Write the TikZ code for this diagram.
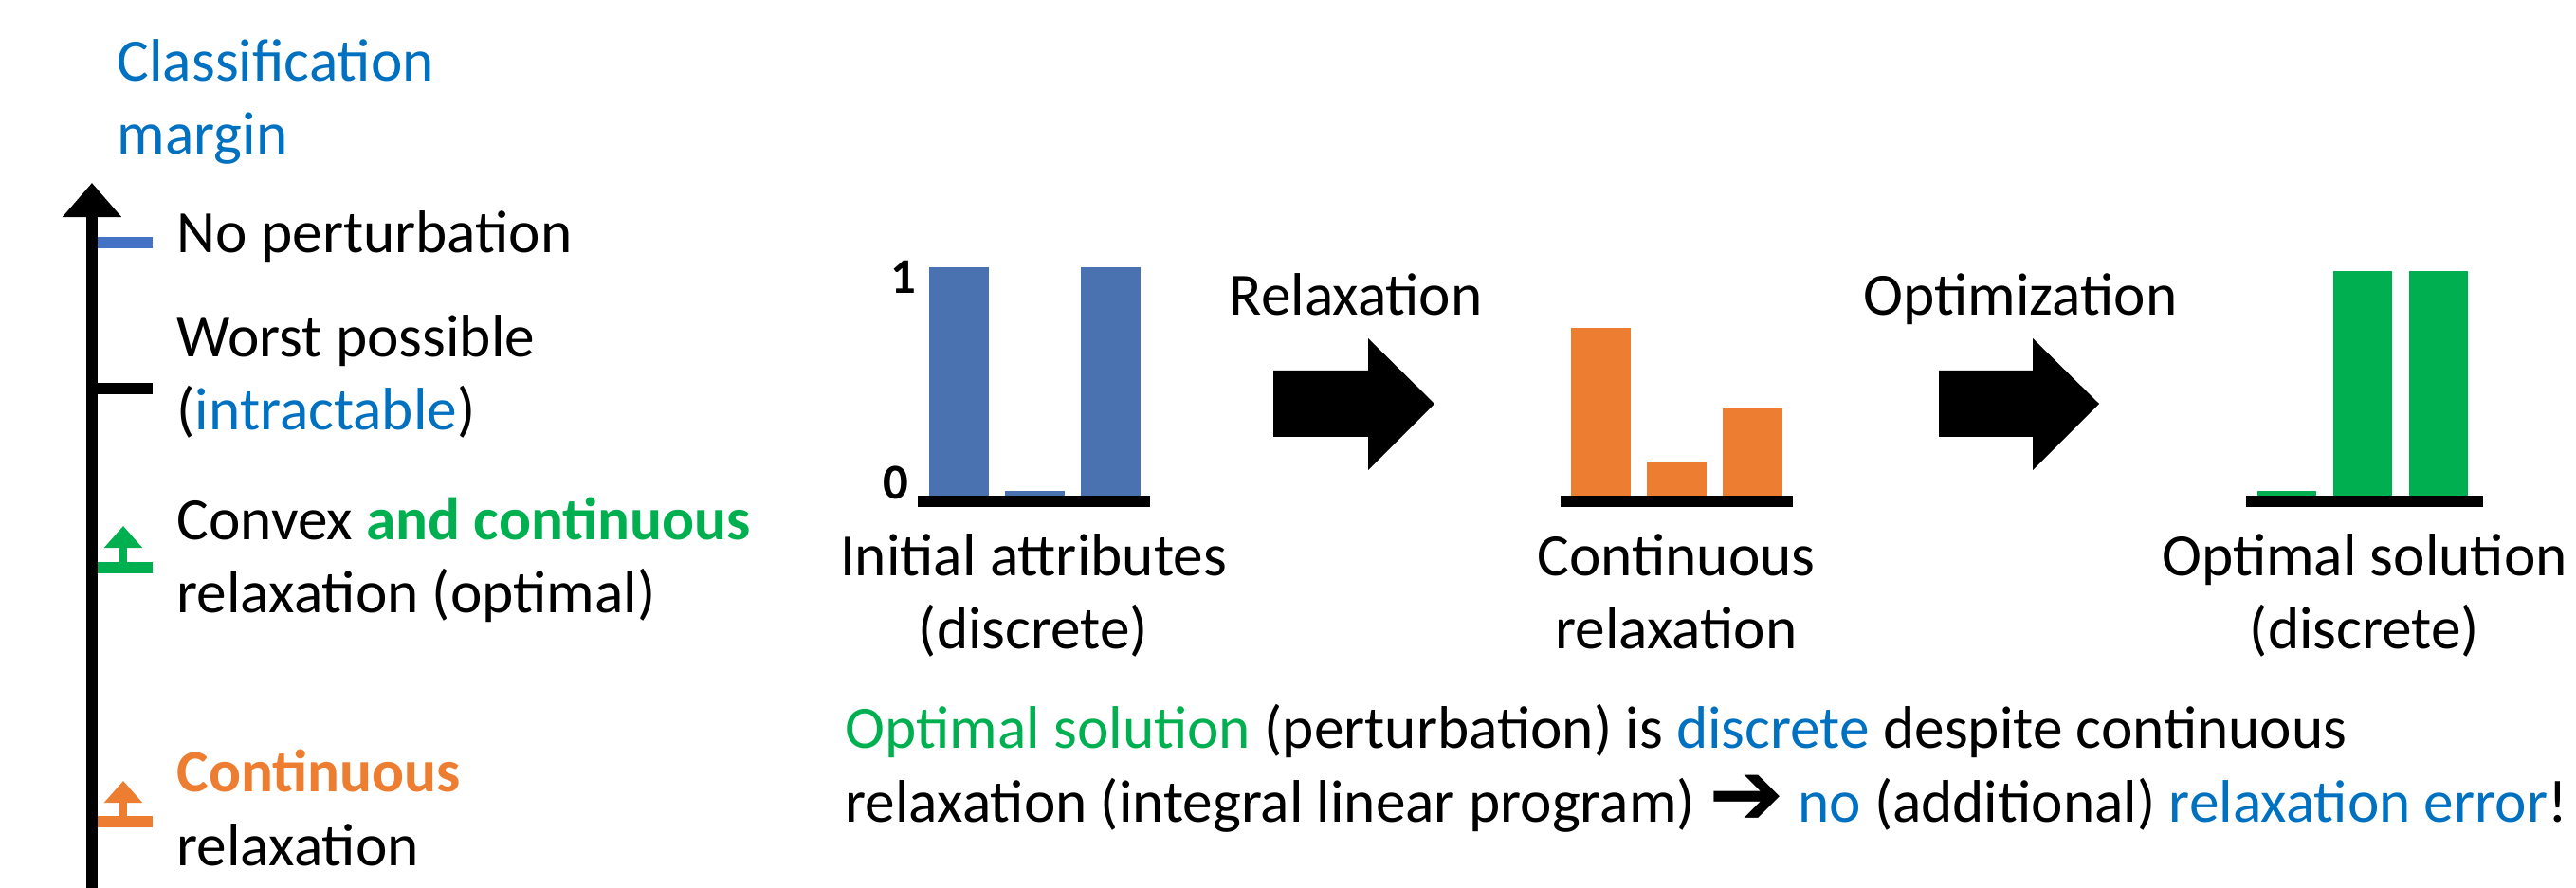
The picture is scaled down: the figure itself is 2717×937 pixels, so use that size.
\documentclass[tikz,border=0pt]{standalone}
\usepackage{fontspec}
\setmainfont{Carlito}
\newfontfamily\symfont{DejaVu Sans}
\usetikzlibrary{positioning, arrows.meta}
\definecolor{cMargin}{HTML}{0070C0}
\definecolor{cInit}{HTML}{4A72B0}
\definecolor{cTick}{HTML}{4472C4}
\definecolor{cRelax}{HTML}{ED7D31}
\definecolor{cOpt}{HTML}{00B050}
\tikzset{
  txt/.style     ={font=\fontsize{18}{22}\selectfont, inner sep=0pt, align=left, anchor=base west},
  caption/.style ={txt, align=center, anchor=base},
  ylabel/.style  ={font=\fontsize{15}{18}\selectfont\bfseries, inner sep=0pt, anchor=base east},
  axis/.style    ={line width=0.11cm, -{Triangle[width=0.6cm, length=0.36cm]}},
  gain/.style    ={line width=0.08cm, -{Triangle[width=0.39cm, length=0.23cm]}},
  ground/.style  ={fill=black}
}

\begin{document}
\begin{tikzpicture}[x=0.01cm, y=-0.01cm]
  \useasboundingbox (0,0) rectangle (2717,937);

  % ====================== Margin axis (left) ======================
  % multi-line nodes sit on the baseline of their last line
  \draw[axis] (97,937) -- (97,193);
  \node[txt, text=cMargin] (margin) at (123,163) {Classification\\margin};

  \fill[cTick] (103,250) rectangle (161,262);
  \node[txt] (noPert) at (186,267) {No perturbation};

  \fill (103,404) rectangle (161,416);
  \node[txt] (worst) at (186,454) {Worst possible\\(\textcolor{cMargin}{intractable})};

  \fill[cOpt] (103,593) rectangle (161,605);
  \draw[gain, cOpt] (130,593) -- (130,555);
  \node[txt] (convex) at (186,647) {Convex \textcolor{cOpt}{\bfseries and continuous}\\relaxation (optimal)};

  \fill[cRelax] (103,861) rectangle (161,873);
  \draw[gain, cRelax] (130,861) -- (130,824);
  \node[txt] (contin) at (186,913) {\textcolor{cRelax}{\bfseries Continuous}\\relaxation};

  % ====================== Initial attributes ======================
  \fill[cInit] (980,523) rectangle (1043,282);
  \fill[cInit] (1060,523) rectangle (1123,518);
  \fill[cInit] (1140,523) rectangle (1203,282);
  \fill[ground] (968,523) rectangle (1213,535);
  \node[ylabel] (one)  at (967,310) {1};
  \node[ylabel] (zero) at (959,527) {0};
  \node[caption] (initLbl) at (1090,685) {Initial attributes\\(discrete)};

  % relaxation step
  \fill (1343,391) -- (1443,391) -- (1443,357) -- (1513,426) -- (1443,496)
        -- (1443,461) -- (1343,461) -- cycle;
  \node[txt] (relaxStep) at (1296,333) {Relaxation};

  % ====================== Continuous relaxation ======================
  \fill[cRelax] (1657,523) rectangle (1720,346);
  \fill[cRelax] (1737,523) rectangle (1800,487);
  \fill[cRelax] (1817,523) rectangle (1880,431);
  \fill[ground] (1646,523) rectangle (1891,535);
  \node[caption] (relaxLbl) at (1768,685) {Continuous\\relaxation};

  % optimization step
  \fill (2045,391) -- (2144,391) -- (2144,357) -- (2214,426) -- (2144,496)
        -- (2144,461) -- (2045,461) -- cycle;
  \node[txt] (optStep) at (1965,333) {Optimization};

  % ====================== Optimal solution ======================
  \fill[cOpt] (2381,523) rectangle (2443,518);
  \fill[cOpt] (2461,523) rectangle (2523,286);
  \fill[cOpt] (2541,523) rectangle (2603,286);
  \fill[ground] (2369,523) rectangle (2619,535);
  \node[caption] (optLbl) at (2494,685) {Optimal solution\\(discrete)};

  % ====================== Take-away ======================
  \node[txt] (note) at (891,867) {\textcolor{cOpt}{Optimal solution} (perturbation) is
    \textcolor{cMargin}{discrete} despite continuous\\relaxation (integral linear program)
    \raisebox{-1pt}{\symfont\bfseries\fontsize{27}{22}\selectfont ➔}
    \textcolor{cMargin}{no} (additional) \textcolor{cMargin}{relaxation error}!};

\end{tikzpicture}
\end{document}
